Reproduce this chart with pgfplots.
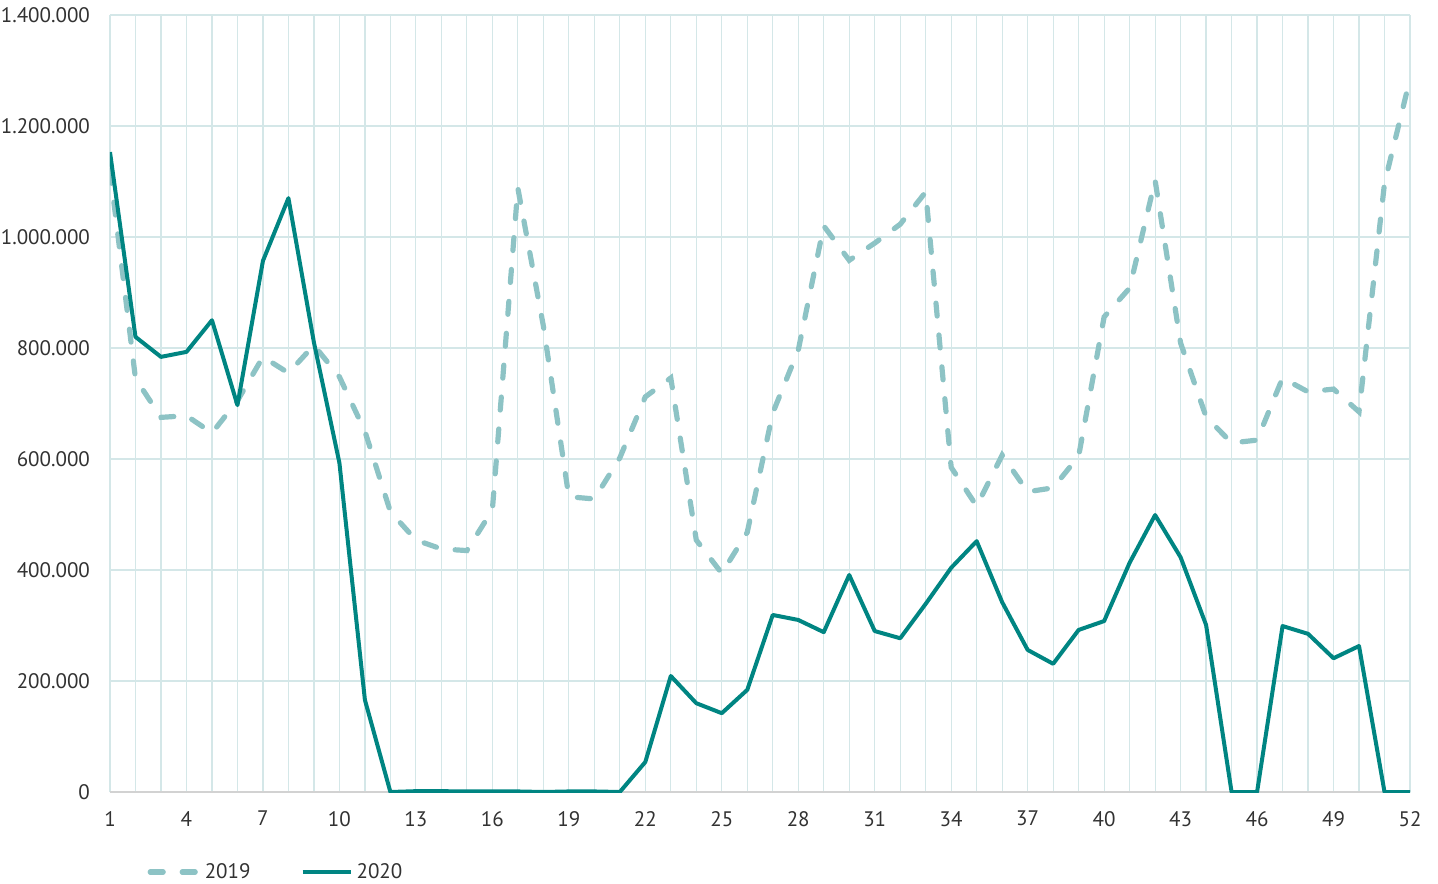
\documentclass[border=0pt]{standalone}
\usepackage{pgfplots}
\pgfplotsset{compat=1.18}
\usepackage{fontspec}
\setmainfont{PT Sans}
\definecolor{c2019}{RGB}{141,195,197}
\definecolor{c2020}{RGB}{0,133,130}
\definecolor{gridc}{RGB}{212,231,232}
\definecolor{txt}{RGB}{50,50,50}
\pgfplotsset{
  mylegimg/.style={legend image code/.code={\draw[#1] (0pt,0pt) -- (24pt,0pt);}}
}
\begin{document}
\begin{tikzpicture}
\useasboundingbox (-55pt,-45.5pt) rectangle (664pt,396pt);
\begin{axis}[
  scale only axis,
  width=650pt, height=388.5pt,
  xmin=1, xmax=52, ymin=0, ymax=1400000,
  xtick={1,4,...,52},
  minor xtick={1,...,52},
  ytick={0,200000,...,1400000},
  xmajorgrids, xminorgrids, ymajorgrids,
  major grid style={gridc, line width=0.6pt},
  minor grid style={gridc, line width=0.6pt},
  axis line style={draw=none},
  major tick length=0pt, minor tick length=0pt,
  tick style={draw=none},
  scaled y ticks=false,
  /pgf/number format/.cd, fixed, 1000 sep={.}, assume math mode=true,
  /pgfplots/.cd,
  ticklabel style={font=\fontsize{10.5}{12}\selectfont, text=txt},
  yticklabel style={xshift=-6.5pt},
  xticklabel style={yshift=-6pt},
  legend columns=2,
  legend style={draw=none, fill=none, at={(axis description cs:0.024,-0.103)}, anchor=west,
    font=\fontsize{10.5}{12}\selectfont, text=txt,
    /tikz/every even column/.append style={column sep=23pt}},
  legend cell align=left,
]
\draw[gray!35, line width=1pt] (axis cs:1,0) -- (axis cs:52,0);
\addplot[c2019, line width=2.6pt, line cap=round, dash pattern=on 6.5pt off 9.5pt, mylegimg] coordinates {
(1,1120000)(2,745000)(3,675000)(4,678000)(5,647000)(6,705000)(7,784000)(8,755000)(9,805000)(10,748000)
(11,650000)(12,505000)(13,454000)(14,438000)(15,435000)(16,508000)(17,1088000)(18,840000)(19,532000)(20,528000)
(21,602000)(22,712000)(23,746000)(24,454000)(25,394000)(26,468000)(27,683000)(28,796000)(29,1020000)(30,958000)
(31,989000)(32,1023000)(33,1081000)(34,585000)(35,515000)(36,607000)(37,541000)(38,548000)(39,605000)(40,856000)
(41,908000)(42,1102000)(43,809000)(44,676000)(45,629000)(46,634000)(47,746000)(48,721000)(49,726000)(50,685000)
(51,1097000)(52,1285000)
};
\addlegendentry{2019}
\addplot[c2020, line width=2pt, line join=round, mylegimg] coordinates {
(1,1153000)(2,820000)(3,784000)(4,793000)(5,850000)(6,697000)(7,957000)(8,1070000)(9,810000)(10,593000)
(11,166000)(12,0)(13,1500)(14,1500)(15,1000)(16,1000)(17,1000)(18,0)(19,1000)(20,1000)
(21,0)(22,54000)(23,209000)(24,160000)(25,142000)(26,184000)(27,319000)(28,310000)(29,288000)(30,391000)
(31,290000)(32,277000)(33,339000)(34,404000)(35,452000)(36,342000)(37,256000)(38,231000)(39,292000)(40,308000)
(41,413000)(42,499000)(43,423000)(44,301000)(45,0)(46,0)(47,299000)(48,285000)(49,241000)(50,263000)
(51,0)(52,0)
};
\addlegendentry{2020}
\end{axis}
\end{tikzpicture}
\end{document}
